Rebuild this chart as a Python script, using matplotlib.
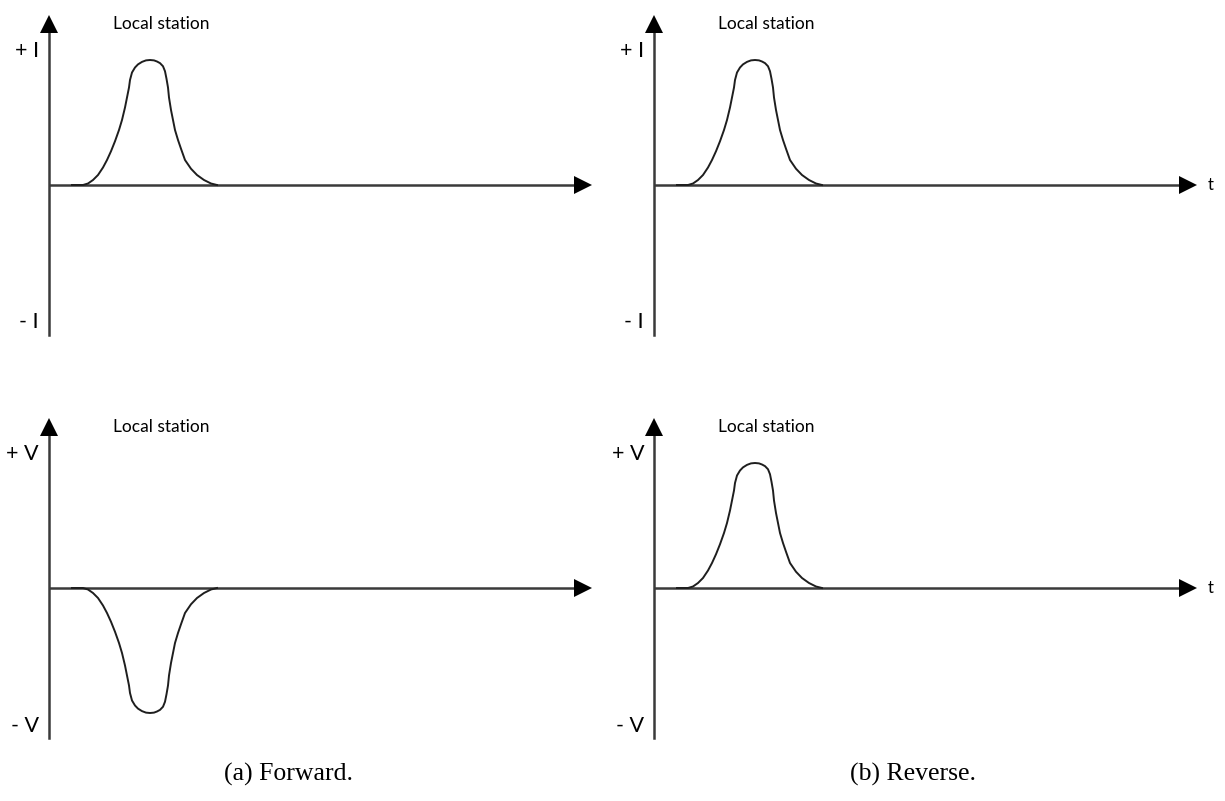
import matplotlib
matplotlib.use("Agg")
import matplotlib.pyplot as plt

# Pulse shape (time offset from the vertical axis, normalised amplitude)
pulse_t = [23, 34, 39, 44, 49, 54, 58, 62, 66, 70, 73, 76, 78, 80, 81, 83, 86,
           89, 93, 97, 101, 105, 108, 111, 114, 116, 117.5, 119, 120, 122, 124,
           126, 129, 132, 136, 142, 148, 155, 162, 168]
pulse_a = [0.0, 0.0, 0.012, 0.04, 0.08, 0.14, 0.2, 0.27, 0.35, 0.44, 0.52, 0.62,
           0.7, 0.78, 0.84, 0.9, 0.94, 0.965, 0.985, 0.997, 1.0, 0.997, 0.988,
           0.975, 0.95, 0.91, 0.85, 0.78, 0.7, 0.6, 0.52, 0.44, 0.36, 0.29, 0.2,
           0.13, 0.08, 0.04, 0.012, 0.0]

# Sign of the pulse in each panel: (row, col) -> polarity
polarity = {(0, 0): 1, (0, 1): 1, (1, 0): -1, (1, 1): 1}
y_labels = [("+ I", "- I"), ("+ V", "- V")]
panel_title = "Local station"
captions = ["(a) Forward.", "(b) Reverse."]

W, H = 1225, 801
fig = plt.figure(figsize=(W / 100, H / 100), dpi=100)

# pixel origin of each panel's axes crossing
origins = {(0, 0): (49, 185), (0, 1): (654, 185),
           (1, 0): (49, 588), (1, 1): (654, 588)}
PX_PER_UNIT = 125.0   # pixels for amplitude 1
AXCOL = "#3a3a3a"
sans = ["Lato", "DejaVu Sans"]

for (r, c), (ox, oy) in origins.items():
    left, top, w, h = ox - 49, oy - 185, 600, 345
    ax = fig.add_axes([left / W, 1 - (top + h) / H, w / W, h / H])
    ax.set_xlim(-49, 551)
    ax.set_ylim(-160 / PX_PER_UNIT, 185 / PX_PER_UNIT)
    ax.axis("off")

    # axes with arrow heads
    ax.plot([0, 535], [0, 0], color=AXCOL, lw=1.8, solid_capstyle="butt")
    ax.plot([534], [0], marker=">", ms=12.5, color="black", mec="black", mew=0)
    ax.plot([0, 0], [-150 / PX_PER_UNIT, 160 / PX_PER_UNIT], color=AXCOL, lw=1.8)
    ax.plot([0], [161 / PX_PER_UNIT], marker="^", ms=12.5, color="black", mew=0)

    sign = polarity[(r, c)]
    ax.plot(pulse_t, [sign * a for a in pulse_a], color="#1e1e1e", lw=1.4,
            solid_joinstyle="round")

    top_lbl, bot_lbl = y_labels[r]
    ax.text(-10, 1.07, top_lbl, ha="right", va="center", fontsize=15.5, family=sans)
    ax.text(-10, -1.1, bot_lbl, ha="right", va="center", fontsize=15.5, family=sans)
    ax.text(112, 1.29, panel_title, ha="center", va="center", fontsize=12.5,
            family=sans)
    if c == 1:
        ax.text(557, 0, "t", ha="center", va="center", fontsize=12, family=sans)

fig.text(288 / W, 1 - 774 / H, captions[0], ha="center", va="center",
         fontsize=18.5, family=["Liberation Serif", "DejaVu Serif"])
fig.text(913 / W, 1 - 774 / H, captions[1], ha="center", va="center",
         fontsize=18.5, family=["Liberation Serif", "DejaVu Serif"])

fig.savefig("out.png", dpi=100, facecolor="white")
